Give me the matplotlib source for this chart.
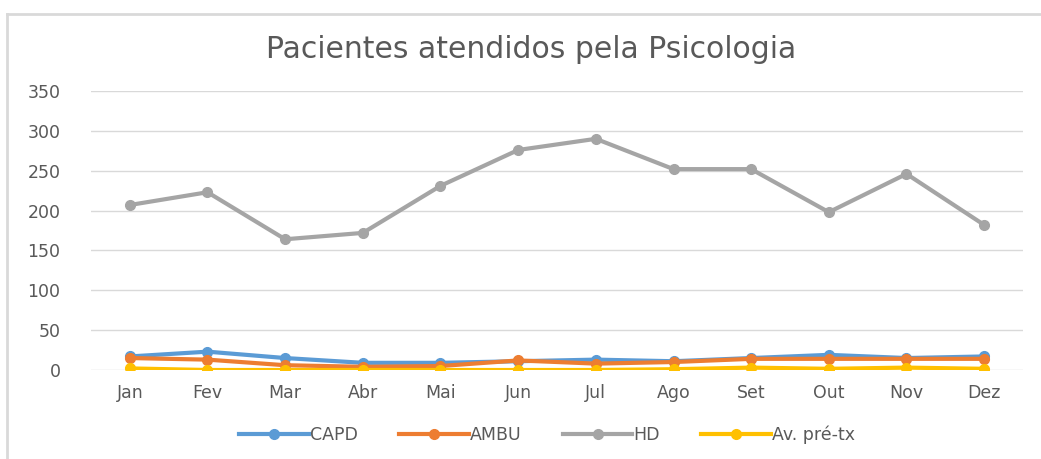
import matplotlib.pyplot as plt
from matplotlib.lines import Line2D

months = ['Jan', 'Fev', 'Mar', 'Abr', 'Mai', 'Jun', 'Jul', 'Ago', 'Set', 'Out', 'Nov', 'Dez']
capd = [17, 23, 15, 9, 9, 11, 13, 11, 15, 19, 15, 17]
ambu = [15, 13, 6, 4, 5, 12, 8, 10, 14, 14, 14, 14]
hd = [207, 223, 164, 172, 231, 276, 290, 252, 252, 198, 246, 182]
av_pre_tx = [2, 0, 0, 0, 0, 0, 0, 1, 3, 1.5, 3, 1.5]

series_names = ['CAPD', 'AMBU', 'HD', 'Av. pré-tx']
series_colors = ['#5b9bd5', '#ed7d31', '#a5a5a5', '#ffc000']

text_color = '#595959'
plt.rcParams['font.family'] = ['DejaVu Sans']

fig = plt.figure(figsize=(10.41, 4.59), dpi=100)
ax = fig.add_axes([91 / 1041, 1 - 370 / 459, (1023 - 91) / 1041, (370 - 91) / 459])

x = list(range(len(months)))
for name, vals, col in zip(series_names, [capd, ambu, hd, av_pre_tx], series_colors):
    ax.plot(x, vals, color=col, lw=3, marker='o', ms=7, label=name, solid_capstyle='round')

ax.set_xlim(-0.5, len(months) - 0.5)
ax.set_ylim(0, 350)
ax.set_yticks(range(0, 351, 50))
ax.set_xticks(x)
ax.set_xticklabels(months)
ax.grid(axis='y', color='#d9d9d9', lw=1)
ax.set_axisbelow(True)
for s in ax.spines.values():
    s.set_visible(False)
ax.tick_params(length=0, colors=text_color, labelsize=12.5, pad=10)
ax.tick_params(axis='y', pad=22)

fig.text(531 / 1041, 1 - 50 / 459, 'Pacientes atendidos pela Psicologia', ha='center', va='center',
         fontsize=21.5, color=text_color)

handles = [Line2D([], [], color=c, lw=3, marker='o', ms=7) for c in series_colors]
fig.legend(handles, series_names, loc='center', bbox_to_anchor=(547 / 1041, 1 - 435 / 459), ncol=4,
           frameon=False, fontsize=12.5, labelcolor=text_color, handlelength=4,
           handletextpad=0.05, columnspacing=2.4)

# chart border (top and left only visible)
fig.add_artist(Line2D([7 / 1041, 7 / 1041], [0, 1 - 14 / 459], transform=fig.transFigure,
                      color='#d9d9d9', lw=2))
fig.add_artist(Line2D([7 / 1041, 1], [1 - 14 / 459, 1 - 14 / 459], transform=fig.transFigure,
                      color='#d9d9d9', lw=2))

fig.savefig('out.png', dpi=100)
